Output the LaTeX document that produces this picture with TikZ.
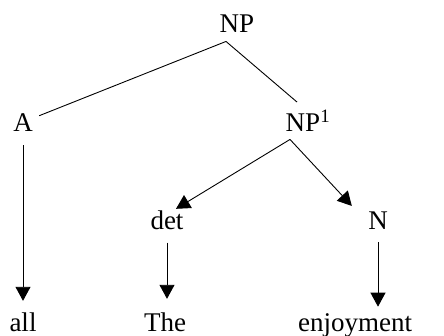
\documentclass[tikz,border=0pt]{standalone}
\usepackage{fontspec}
\setmainfont{Liberation Serif}
\usetikzlibrary{arrows.meta}

\begin{document}
\begin{tikzpicture}[x=1pt,y=-1pt,line width=0.9pt,
        every node/.style={font=\fontsize{27}{31}\selectfont,anchor=base,inner sep=2pt},
        >={Triangle[length=14pt,width=15pt]}]
        \useasboundingbox (0,0) rectangle (444,336);
        \node (NP) at (237,33) {NP};
        \node (A) at (23,132) {A};
        \node (NP1) at (303,132) {NP\rlap{\textsuperscript{1}}};
        \node (DET) at (167,230) {det};
        \node (N) at (378,230) {N};
        \node (ALL) at (23,331) {all};
        \node (THE) at (165,331) {The};
        \node (ENJ) at (355,331) {enjoyment};
        \draw ([xshift=-11pt,yshift=-6pt]NP.south)--([xshift=4pt,yshift=-4pt]A.north east);
        \draw ([xshift=-11pt,yshift=-6pt]NP.south)--([xshift=-6pt,yshift=6pt]NP1.north);
        \draw[->] ([xshift=-13pt,yshift=-5pt]NP1.south)--([xshift=9pt]DET.north);
        \draw[->] ([xshift=-13pt,yshift=-5pt]NP1.south)--([xshift=-14pt,yshift=4pt]N.north west);
        \draw[->] ([yshift=-11pt]A.south)--([yshift=9pt]A.south |- ALL.north);
        \draw[->] ([yshift=-10pt]DET.south)--([yshift=11pt]DET.south |- THE.north);
        \draw[->] ([yshift=-10pt]N.south)--([yshift=4pt]N.south |- ENJ.north);
    \end{tikzpicture}
\end{document}
